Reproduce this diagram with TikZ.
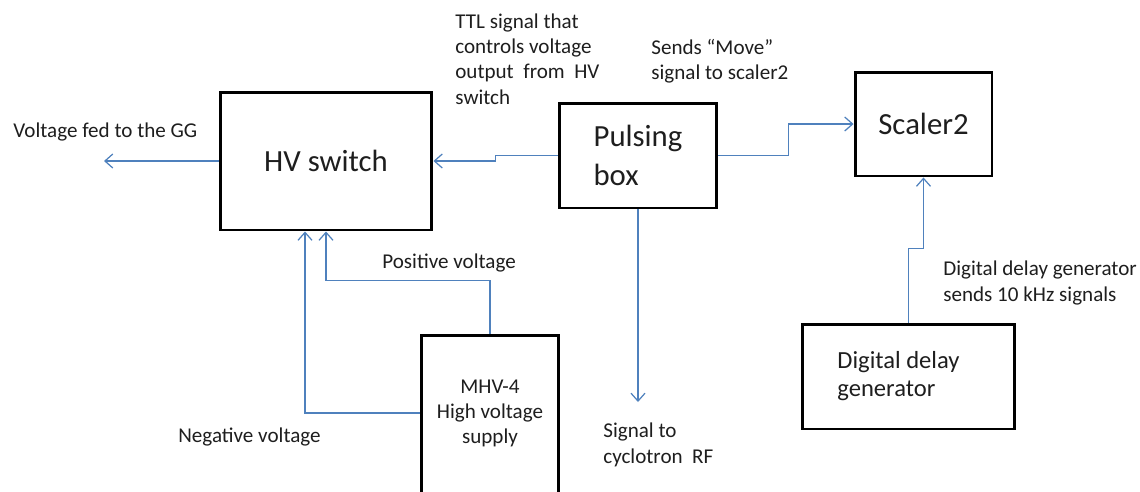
\documentclass[tikz,border=0pt]{standalone}
\usepackage{fontspec}
\setmainfont{Carlito}
\usetikzlibrary{positioning}
\usetikzlibrary{arrows.meta}
\definecolor{wire}{HTML}{4F81BD}
\definecolor{ink}{HTML}{1E1E1E}

\begin{document}
\begin{tikzpicture}[x=0.02cm, y=-0.02cm,
    unit/.style={draw=black, line width=1.7pt, text=ink, font=\fontsize{17.5}{22}\selectfont},
    note/.style={anchor=west, align=left, inner sep=0pt, text=ink, font=\fontsize{12}{14.4}\selectfont},
    signal/.style={color=wire, line width=0.7pt, -{Straight Barb[length=4.5pt,width=8pt]}}]

    \useasboundingbox (0,0) rectangle (1140,491);

    % boxes
    \draw (326,161) 
		node[unit, minimum width=4.24cm, minimum height=2.76cm] 
			(HV switch) {HV switch};

    \draw (638,155.5) 
		node[unit, minimum width=3.16cm, minimum height=2.1cm, align=left] 
			(Pulsing box) {Pulsing\\box};

    \draw (923.5,124) 
		node[unit, minimum width=2.74cm, minimum height=2.08cm] 
			(Scaler2) {Scaler2};

    \draw (490,450) 
		node[unit, minimum width=2.76cm, minimum height=4.6cm] 
			(MHV box) {};
    \draw (490,413) 
		node[align=center, text=ink, font=\fontsize{12}{14.2}\selectfont] 
			(MHV label) {MHV-4\\High voltage\\supply};

    \draw (908.5,376.5) 
		node[unit, minimum width=4.26cm, minimum height=2.1cm, align=left, font=\fontsize{14}{16}\selectfont] 
			(Delay generator) {\hspace*{-0.4cm}Digital delay\\\hspace*{-0.4cm}generator};

    \coordinate (GG) at (104,161);
    \coordinate (Cyclotron) at (638,402);

    % signals
	\draw[signal] (HV switch.west) -- (GG);
	\draw[signal] (Pulsing box.west) -- ++(-62,0) |- (HV switch.east);
	\draw[signal] (Pulsing box.east) -- ++(70,0) |- (Scaler2.west);
	\draw[signal] (Pulsing box.south) -- (Cyclotron);
	\draw[signal] (MHV box.north) -- ++(0,-53) -| (HV switch.south);
	\draw[signal] (MHV box.west |- MHV label) -| ([xshift=-0.42cm]HV switch.south);
	\draw[signal] (Delay generator.north) -- ++(0,-74) -| (Scaler2.south);

    % notes
    \draw (455,59) node[note] (TTL note) {TTL signal that\\controls voltage\\output~ from~ HV\\switch};
    \draw (651,61) node[note] (Move note) {Sends “Move”\\signal to scaler2};
    \draw (13,132) node[note] (GG note) {Voltage fed to the GG};
    \draw (382,263) node[note] (Positive note) {Positive voltage};
    \draw (178,437) node[note] (Negative note) {Negative voltage};
    \draw (603,445) node[note] (Cyclotron note) {Signal to\\cyclotron~ RF};
    \draw (943,283) node[note] (Delay note) {Digital delay generator\\sends 10 kHz signals};

\end{tikzpicture}
\end{document}
